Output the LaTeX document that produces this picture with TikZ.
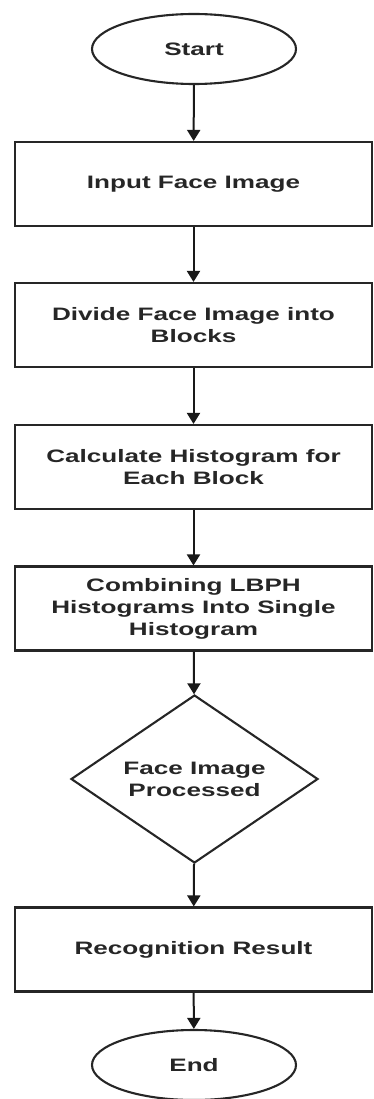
\documentclass[tikz,border=0pt]{standalone}
\usepackage{fontspec}
\setmainfont{Liberation Sans}[FakeStretch=1.45]
\usetikzlibrary{shapes.geometric,arrows.meta}
\begin{document}
\begin{tikzpicture}[x=1pt,y=1pt,
  lbl/.style={align=center, font=\fontsize{18}{22}\selectfont\bfseries, text=black!85},
  box/.style={lbl, draw=black!85, line width=2.1pt, rectangle, minimum width=357pt, minimum height=84pt, inner sep=0pt},
  term/.style={lbl, draw=black!85, line width=2.1pt, ellipse, minimum width=204pt, minimum height=70pt, inner sep=0pt},
  dec/.style={lbl, draw=black!85, line width=2.1pt, diamond, aspect=1.47, minimum width=247pt, minimum height=168pt, inner sep=0pt},
  arr/.style={draw=black!90, line width=2pt, -{Triangle[length=11pt,width=13pt]}}
]
\useasboundingbox (0,0) rectangle (373,-1099);
\node[term] (start) at (194,-49) {Start};
\node[box] (b1) at (193.5,-184) {Input Face Image};
\node[box] (b2) at (193.5,-325) {Divide Face Image into\\Blocks};
\node[box] (b3) at (193.5,-467) {Calculate Histogram for\\Each Block};
\node[box] (b4) at (193.5,-608.5) {Combining LBPH\\Histograms Into Single\\Histogram};
\node[dec] (d1) at (194.5,-779) {Face Image\\Processed};
\node[box] (b5) at (193.5,-949.5) {Recognition Result};
\node[term] (end) at (194,-1065) {End};
\draw[arr] (start) -- (b1);
\draw[arr] (b1) -- (b2);
\draw[arr] (b2) -- (b3);
\draw[arr] (b3) -- (b4);
\draw[arr] (b4) -- (d1);
\draw[arr] (d1) -- (b5);
\draw[arr] (b5) -- (end);
\end{tikzpicture}
\end{document}
